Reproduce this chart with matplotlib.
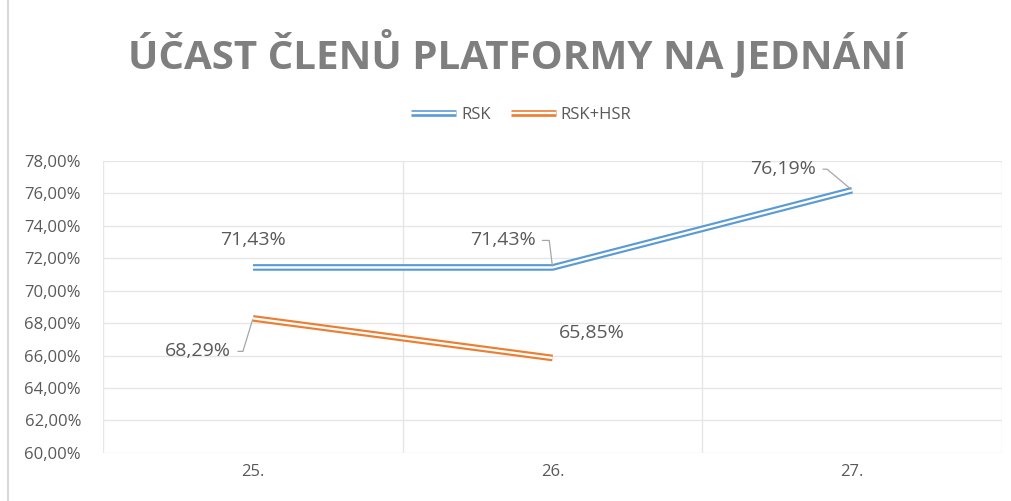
import matplotlib.pyplot as plt
import matplotlib.patheffects as pe
from matplotlib.ticker import FuncFormatter

categories = ['25.', '26.', '27.']
rsk = [71.43, 71.43, 76.19]
rsk_hsr = [68.29, 65.85]
y_ticks = [60, 62, 64, 66, 68, 70, 72, 74, 76, 78]

BLUE = '#5B9BD5'
ORANGE = '#ED7D31'
TEXT = '#595959'
GRID = '#e6e6e6'

plt.rcParams['font.family'] = ['Open Sans', 'DejaVu Sans']

fig = plt.figure(figsize=(10.12, 5.01), dpi=100)
ax = fig.add_axes([0.102, 0.096, 0.888, 0.583])


def double_line(color):
    # excel style "double" compound line: coloured stroke with a white core
    return [pe.Stroke(linewidth=4.8, foreground=color),
            pe.Stroke(linewidth=1.7, foreground='white')]


x = list(range(len(categories)))
ax.plot(x, rsk, color=BLUE, lw=4.8, label='RSK',
        path_effects=double_line(BLUE), solid_capstyle='butt', zorder=3)
ax.plot(x[:len(rsk_hsr)], rsk_hsr, color=ORANGE, lw=4.8, label='RSK+HSR',
        path_effects=double_line(ORANGE), solid_capstyle='butt', zorder=3)

ax.set_xlim(-0.5, 2.5)
ax.set_ylim(60, 78)
ax.set_yticks(y_ticks)
ax.yaxis.set_major_formatter(FuncFormatter(lambda v, p: f'{v:.2f}%'.replace('.', ',')))
ax.set_xticks(x)
ax.set_xticklabels(categories)
ax.set_xticks([0.5, 1.5, 2.5], minor=True)
ax.tick_params(axis='both', which='both', length=0, colors=TEXT, labelsize=12)
ax.tick_params(axis='y', pad=16)
ax.tick_params(axis='x', pad=8)
ax.grid(axis='y', color=GRID, lw=1)
ax.grid(axis='x', which='minor', color=GRID, lw=1)
ax.axvline(-0.5, color=GRID, lw=1)
for s in ax.spines.values():
    s.set_visible(False)
ax.set_axisbelow(True)


def fmt(v):
    return f'{v:.2f}%'.replace('.', ',')


leader = dict(arrowstyle='-', color='#a6a6a6', lw=0.9, shrinkA=3, shrinkB=1)
labels = [
    (0, rsk[0], (0, 27), None),
    (1, rsk[1], (-50, 27), 'angle,angleA=0,angleB=97,rad=0'),
    (2, rsk[2], (-69, 21), 'angle,angleA=0,angleB=140,rad=0'),
    (0, rsk_hsr[0], (-55, -33), 'angle,angleA=0,angleB=-107,rad=0'),
    (1, rsk_hsr[1], (39, 25), None),
]
for xi, yi, off, conn in labels:
    kw = {}
    if conn:
        kw['arrowprops'] = dict(leader, connectionstyle=conn, relpos=(1, 0.5))
    ax.annotate(fmt(yi), (xi, yi), xytext=off, textcoords='offset pixels',
                ha='center', va='center', fontsize=14, color=TEXT, **kw)

fig.text(0.511, 0.895, 'ÚČAST ČLENŮ PLATFORMY NA JEDNÁNÍ',
         ha='center', va='center', fontsize=29, fontweight='bold',
         color='#7f7f7f')

fig.legend(loc='center', bbox_to_anchor=(0.515, 0.77), ncol=2, frameon=False,
           fontsize=12, labelcolor=TEXT, handlelength=2.7, columnspacing=1.2,
           handletextpad=0.3)

fig.add_artist(plt.Line2D([0.008, 0.008], [0, 1], color='#d9d9d9', lw=1.5))

fig.savefig('out.png', dpi=100)
